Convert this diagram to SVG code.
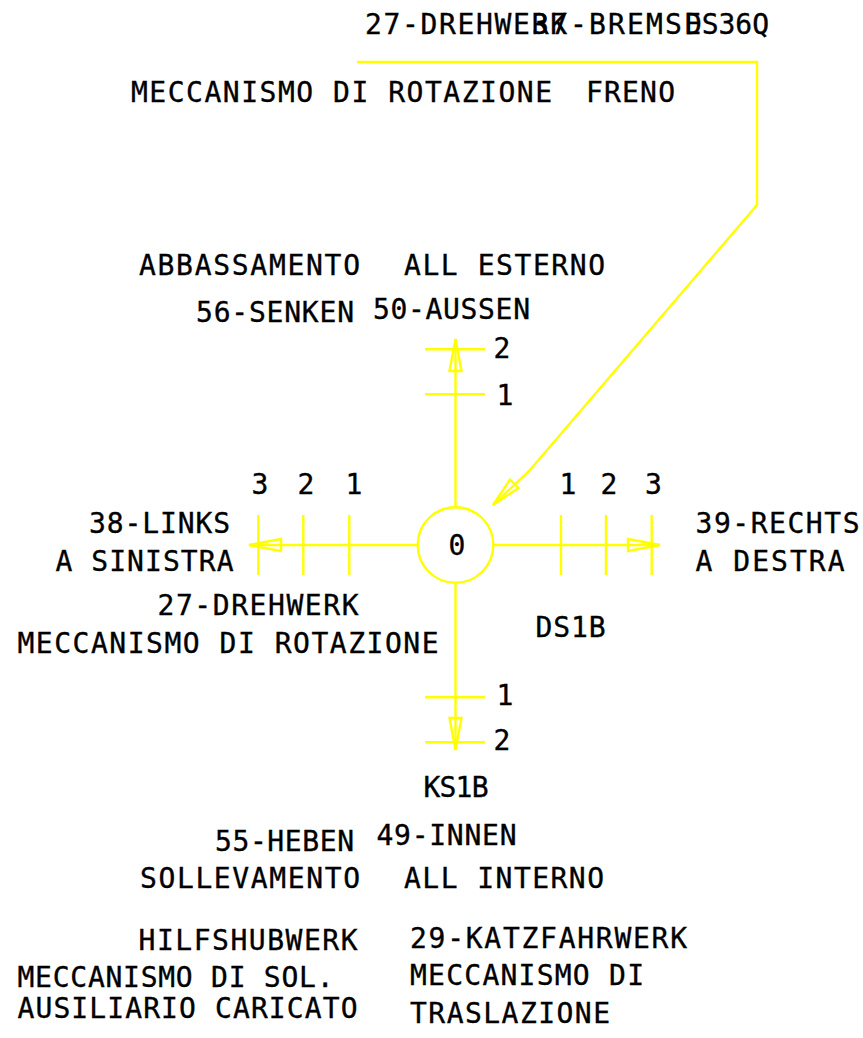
<svg xmlns="http://www.w3.org/2000/svg" width="863" height="1038" viewBox="0 0 863 1038">
<style>
.t{font-family:"DejaVu Sans Mono","Liberation Mono",monospace;font-size:28px;fill:#000;stroke:#000;stroke-width:0.35}
.n{font-family:"DejaVu Sans Mono","Liberation Mono",monospace;font-size:28px;fill:#000;stroke:#000;stroke-width:0.35;text-anchor:middle}
.y{stroke:#ffff00;stroke-width:2.4;fill:none}
</style>
<rect width="863" height="1038" fill="#fff"/>
<g id="connectors" class="y">
<path d="M357,62 H757 V205 L530,470 L493,505"/>
<polygon points="493,505 518.5,488 510,479.6"/>
<line x1="417.5" y1="545" x2="249" y2="545"/>
<polygon points="249,545 281,539 281,551"/>
<line x1="493.5" y1="545" x2="660" y2="545"/>
<polygon points="660,545 628,539 628,551"/>
<line x1="455.5" y1="507" x2="455.5" y2="339"/>
<polygon points="455.5,339 449.5,371 461.5,371"/>
<line x1="455.5" y1="583" x2="455.5" y2="750"/>
<polygon points="455.5,750 449.5,718 461.5,718"/>
<line x1="258.3" y1="515" x2="258.3" y2="575"/>
<line x1="303.3" y1="515" x2="303.3" y2="575"/>
<line x1="349.3" y1="515" x2="349.3" y2="575"/>
<line x1="561" y1="515" x2="561" y2="575"/>
<line x1="606" y1="515" x2="606" y2="575"/>
<line x1="651.7" y1="515" x2="651.7" y2="575"/>
<line x1="425" y1="349.3" x2="485" y2="349.3"/>
<line x1="425" y1="394.3" x2="485" y2="394.3"/>
<line x1="425" y1="697.3" x2="485" y2="697.3"/>
<line x1="425" y1="742.3" x2="485" y2="742.3"/>
</g>
<g id="switch">
<circle class="y" cx="455.5" cy="545" r="37.8"/>
<text class="n" x="457" y="555">0</text>
</g>
<g id="positions">
<text class="n" x="502" y="358">2</text>
<text class="n" x="505" y="405">1</text>
<text class="n" x="505" y="705">1</text>
<text class="n" x="502" y="750">2</text>
<text class="n" x="260" y="494">3</text>
<text class="n" x="306" y="494">2</text>
<text class="n" x="354" y="494">1</text>
<text class="n" x="568" y="494">1</text>
<text class="n" x="609" y="494">2</text>
<text class="n" x="653.5" y="494">3</text>
</g>
<g id="top-label">
<text class="t" x="365" y="34" textLength="202" lengthAdjust="spacing">27-DREHWERK</text>
<text class="t" x="532" y="34" textLength="169" lengthAdjust="spacing">37-BREMSE</text>
<text class="t" x="685" y="34" textLength="84" lengthAdjust="spacing">DS36Q</text>
<text class="t" x="131" y="101.5" textLength="421" lengthAdjust="spacing">MECCANISMO DI ROTAZIONE</text>
<text class="t" x="586" y="101.5" textLength="89" lengthAdjust="spacing">FRENO</text>
</g>
<g id="up-label">
<text class="t" x="139" y="275" textLength="221" lengthAdjust="spacing">ABBASSAMENTO</text>
<text class="t" x="404" y="275" textLength="201" lengthAdjust="spacing">ALL ESTERNO</text>
<text class="t" x="196" y="322" textLength="158" lengthAdjust="spacing">56-SENKEN</text>
<text class="t" x="373" y="319" textLength="157" lengthAdjust="spacing">50-AUSSEN</text>
</g>
<g id="left-label">
<text class="t" x="89" y="533" textLength="141" lengthAdjust="spacing">38-LINKS</text>
<text class="t" x="55.5" y="571" textLength="178" lengthAdjust="spacing">A SINISTRA</text>
</g>
<g id="right-label">
<text class="t" x="695.5" y="533" textLength="164" lengthAdjust="spacing">39-RECHTS</text>
<text class="t" x="695.5" y="571" textLength="149" lengthAdjust="spacing">A DESTRA</text>
</g>
<g id="ds1b-label">
<text class="t" x="157.5" y="615" textLength="201" lengthAdjust="spacing">27-DREHWERK</text>
<text class="t" x="17.5" y="653" textLength="421" lengthAdjust="spacing">MECCANISMO DI ROTAZIONE</text>
<text class="t" x="535.5" y="637" textLength="70" lengthAdjust="spacing">DS1B</text>
</g>
<g id="down-label">
<text class="t" x="423.5" y="797" textLength="65" lengthAdjust="spacing">KS1B</text>
<text class="t" x="215" y="851" textLength="139" lengthAdjust="spacing">55-HEBEN</text>
<text class="t" x="376.5" y="845" textLength="140" lengthAdjust="spacing">49-INNEN</text>
<text class="t" x="140" y="888" textLength="220" lengthAdjust="spacing">SOLLEVAMENTO</text>
<text class="t" x="404" y="888" textLength="200" lengthAdjust="spacing">ALL INTERNO</text>
</g>
<g id="ks1b-label">
<text class="t" x="138.5" y="950" textLength="219" lengthAdjust="spacing">HILFSHUBWERK</text>
<text class="t" x="17.5" y="987" textLength="316" lengthAdjust="spacing">MECCANISMO DI SOL.</text>
<text class="t" x="17.5" y="1018" textLength="340" lengthAdjust="spacing">AUSILIARIO CARICATO</text>
<text class="t" x="410" y="948" textLength="277" lengthAdjust="spacing">29-KATZFAHRWERK</text>
<text class="t" x="410" y="985" textLength="234" lengthAdjust="spacing">MECCANISMO DI</text>
<text class="t" x="410" y="1023" textLength="200" lengthAdjust="spacing">TRASLAZIONE</text>
</g>
</svg>
